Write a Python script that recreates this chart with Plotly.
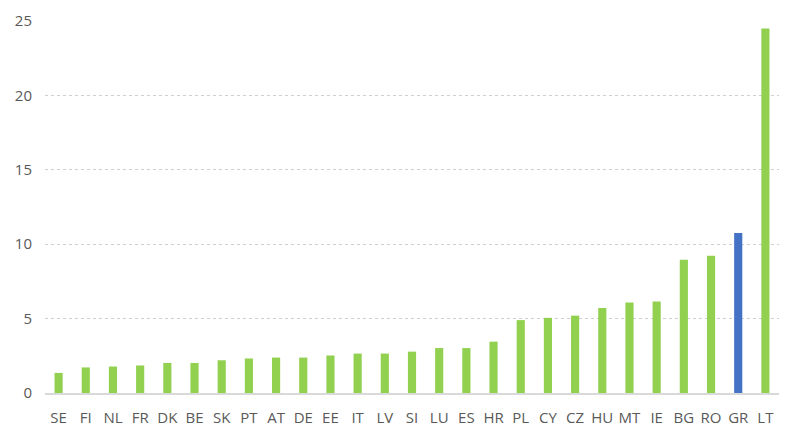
import plotly.graph_objects as go

countries = ["SE", "FI", "NL", "FR", "DK", "BE", "SK", "PT", "AT", "DE", "EE", "IT", "LV", "SI",
             "LU", "ES", "HR", "PL", "CY", "CZ", "HU", "MT", "IE", "BG", "RO", "GR", "LT"]
values = [1.35, 1.72, 1.78, 1.85, 2.02, 2.02, 2.2, 2.32, 2.38, 2.38, 2.52, 2.65, 2.65, 2.78,
          3.02, 3.02, 3.45, 4.9, 5.05, 5.2, 5.72, 6.08, 6.15, 8.95, 9.22, 10.75, 24.5]
highlight = "GR"

green = "#92d050"
blue = "#4472c4"
colors = [blue if c == highlight else green for c in countries]

fig = go.Figure(go.Bar(x=countries, y=values, marker=dict(color=colors, line=dict(width=0)),
                       hoverinfo="x+y"))

font = dict(family="Open Sans, Liberation Sans, sans-serif", size=15, color="#595959")

# page body has an 8px default margin; compensate so the plot area sits where the reference has it
fig.update_layout(
    width=800, height=439,
    margin=dict(l=37, r=29, t=13, b=54),
    paper_bgcolor="white", plot_bgcolor="white",
    bargap=0.7,
    showlegend=False,
    font=font,
)
fig.update_xaxes(
    type="category", showgrid=False, showline=True, linecolor="#d9d9d9", linewidth=1.5,
    ticks="", tickfont=font, ticklabelstandoff=10, zeroline=False, automargin=False,
)
fig.update_yaxes(
    range=[0, 25], tickvals=[0, 5, 10, 15, 20, 25], showgrid=True, gridcolor="#cfcfcf",
    griddash="dot", gridwidth=1, zeroline=False, showline=False, ticks="",
    tickfont=font, ticklabelstandoff=12, automargin=False,
)

fig.write_html("out.html")
